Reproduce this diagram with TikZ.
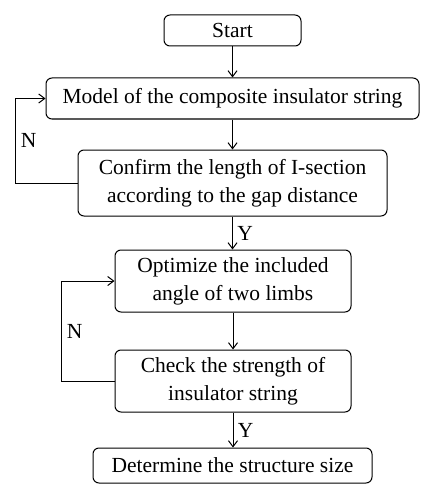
\documentclass[tikz,border=0pt]{standalone}
\usepackage{fontspec}
\setmainfont{Liberation Serif}
\usetikzlibrary{arrows.meta}
\begin{document}
\begin{tikzpicture}[x=1pt,y=-1pt,
  box/.style={draw, rounded corners=6pt, line width=1pt, align=center, inner sep=0pt, font=\fontsize{21.5}{28}\selectfont},
  arr/.style={-{Straight Barb[length=6pt,width=9pt,line width=1pt]}, line width=1pt},
  lab/.style={font=\fontsize{21.5}{26}\selectfont}]
\useasboundingbox (0,0) rectangle (435,500);
\node[box, minimum width=137pt, minimum height=31pt] (start) at (232.5,30.5) {Start};
\node[box, minimum width=373pt, minimum height=41pt] (model) at (232.5,98.5) {Model of the composite insulator string};
\node[box, minimum width=309pt, minimum height=66pt] (confirm) at (232.5,183) {Confirm the length of I-section\\according to the gap distance};
\node[box, minimum width=236pt, minimum height=62pt] (opt) at (233,281) {Optimize the included\\angle of two limbs};
\node[box, minimum width=236pt, minimum height=62pt] (check) at (233,381) {Check the strength of\\insulator string};
\node[box, minimum width=279pt, minimum height=35pt] (det) at (232.5,465.5) {Determine the structure size};
\coordinate (l1) at (15,0);
\coordinate (l2) at (61,0);
\draw[arr] (start) -- (model);
\draw[arr] (model) -- (confirm);
\draw[arr] (confirm) -- node[lab, right=1pt] {Y} (opt.north -| confirm.south);
\draw[arr] (opt) -- (check);
\draw[arr] (check) -- node[lab, right=1pt] {Y} (det.north -| check.south);
\draw[arr] (confirm.west) -- (confirm.west -| l1) -- node[lab, right=2pt] {N} (model.west -| l1) -- (model.west);
\draw[arr] (check.west) -- (check.west -| l2) -- node[lab, right=2pt] {N} (opt.west -| l2) -- (opt.west);
\end{tikzpicture}
\end{document}
